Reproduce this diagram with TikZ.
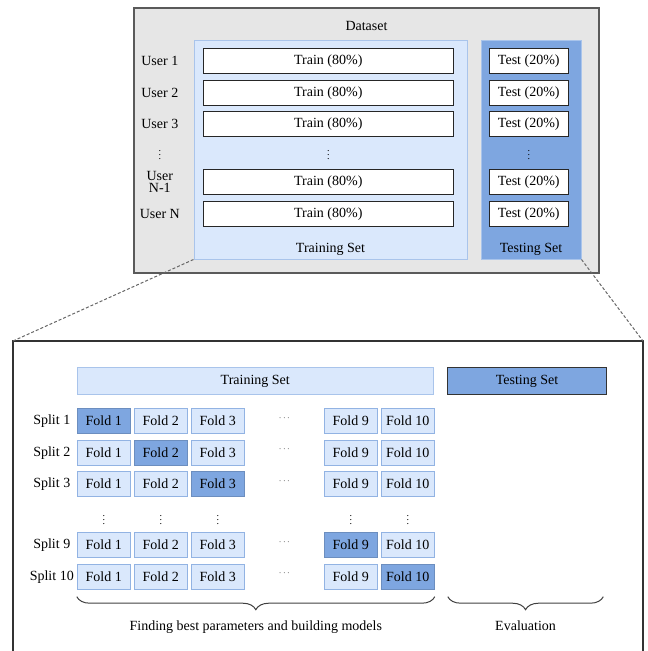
\documentclass[tikz,border=0pt]{standalone}
\usepackage{fontspec}
\setmainfont{Liberation Serif}
\usetikzlibrary{positioning, matrix, decorations.pathreplacing}
\definecolor{dsgray}{HTML}{E6E6E6}
\definecolor{dsedge}{HTML}{5A5A5A}
\definecolor{trfill}{HTML}{DAE8FC}
\definecolor{tredge}{HTML}{A9C4EB}
\definecolor{tsfill}{HTML}{7EA6E0}
\definecolor{tsedge}{HTML}{6C8EBF}
\definecolor{fdedge}{HTML}{92B3E3}

\begin{document}
\begin{tikzpicture}[
    x=1pt, y=-1pt,
    font=\fontsize{14}{13}\selectfont,
    panel/.style={rectangle, draw=#1, line width=1pt, inner sep=0pt},
    userlbl/.style={draw=none, fill=none, inner sep=0pt, minimum width=44pt, minimum height=25pt},
    trainbox/.style={rectangle, draw=black!85, fill=white, line width=1pt,
                     minimum width=250pt, minimum height=25pt, inner sep=2pt},
    testbox/.style={trainbox, minimum width=79pt},
    fold/.style={rectangle, draw=fdedge, fill=trfill, line width=1pt,
                 minimum width=53pt, minimum height=25pt, inner sep=2pt},
    foldhl/.style={fill=tsfill, draw=tsedge},
    vdot/.style={draw=none, fill=none, minimum width=0pt, minimum height=0pt, inner sep=0pt,
                 text height=9pt, text depth=0pt, font=\fontsize{10}{10}\selectfont},
    hdot/.style={draw=none, fill=none, minimum width=73pt, minimum height=0pt, inner sep=0pt,
                 yshift=3pt, font=\fontsize{9}{9}\selectfont},
    zoomline/.style={dash pattern=on 3pt off 2pt, line width=1pt, black!60},
    curly/.style={decorate, decoration={brace, mirror, amplitude=13pt}, line width=1pt, black!75}
  ]
    \useasboundingbox (0,0) rectangle (648,651);

    % dataset overview
    \node[panel=dsedge, fill=dsgray, line width=1.2pt, minimum width=465pt, minimum height=265pt] (dataset) at (366.5,140.5) {};
    \node[anchor=base] (dstitle) at ([yshift=-23.5pt]dataset.north) {Dataset};
    \node[panel=tredge, fill=trfill, minimum width=273pt, minimum height=219pt] (trainset) at (330.5,149.5) {};
    \node[panel=tredge, fill=tsfill, minimum width=100pt, minimum height=219pt] (testset) at (531,149.5) {};
    \node[anchor=base] (trainlbl) at ([yshift=7.5pt]trainset.south) {Training Set};
    \node[anchor=base] (testlbl) at ([yshift=7.5pt]testset.south) {Testing Set};

    \matrix (users) [matrix of nodes, anchor=north east, inner sep=0pt, row sep=5.5pt, column sep=21pt,
                     nodes={anchor=center},
                     column 1/.style={nodes={userlbl}},
                     column 2/.style={nodes={trainbox}},
                     column 3/.style={nodes={testbox}},
                     row 4/.style={nodes={vdot}}] at (569,48) {
      User 1 & Train (80\%) &[14pt] Test (20\%) \\
      User 2 & Train (80\%) & Test (20\%) \\
      User 3 & Train (80\%) & Test (20\%) \\[7.5pt]
      $\vdots$ & $\vdots$ & $\vdots$ \\[4.5pt]
      \shortstack{User\\N-1} & Train (80\%) & Test (20\%) \\
      User N & Train (80\%) & Test (20\%) \\
    };

    % cross-validation detail
    \coordinate (cvtl) at (13,341);
    \coordinate (cvtr) at (643,341);
    \draw[black!80, line width=1.2pt] (13,652) -- (cvtl) -- (cvtr) -- (643,652);
    \draw[zoomline] (trainset.south west) -- (cvtl);
    \draw[zoomline] (testset.south east) -- (cvtr);

    \matrix (folds) [matrix of nodes, anchor=north east, inner sep=0pt, row sep=5.5pt, column sep=3pt,
                     nodes={fold, anchor=center},
                     column 1/.style={nodes={userlbl}},
                     column 5/.style={nodes={hdot}},
                     row 4/.style={nodes={vdot}}] at (435,408) {
      Split 1 & |[foldhl]| Fold 1 & Fold 2 & Fold 3 & $\cdots$ & Fold 9 & Fold 10 \\
      Split 2 & Fold 1 & |[foldhl]| Fold 2 & Fold 3 & $\cdots$ & Fold 9 & Fold 10 \\
      Split 3 & Fold 1 & Fold 2 & |[foldhl]| Fold 3 & $\cdots$ & Fold 9 & Fold 10 \\[13pt]
              & $\vdots$ & $\vdots$ & $\vdots$ & & $\vdots$ & $\vdots$ \\[2pt]
      Split 9 & Fold 1 & Fold 2 & Fold 3 & $\cdots$ & |[foldhl]| Fold 9 & Fold 10 \\
      Split 10 & Fold 1 & Fold 2 & Fold 3 & $\cdots$ & Fold 9 & |[foldhl]| Fold 10 \\
    };

    \node[panel=tredge, fill=trfill, minimum width=356pt, minimum height=27pt,
          above right=13pt and 0pt of folds-1-2.north west] (trainbar) {Training Set};
    \node[panel=black!80, fill=tsfill, line width=1.5pt, minimum width=159pt, minimum height=27pt,
          right=13pt of trainbar] (testbar) {Testing Set};

    \coordinate (findl) at ([yshift=-7pt]folds-6-2.south west);
    \coordinate (findr) at ([yshift=-7pt]folds-6-7.south east);
    \coordinate (evall) at ([xshift=1pt]testbar.west |- findl);
    \coordinate (evalr) at ([xshift=-4pt]testbar.east |- findr);
    \draw[curly] (findl) -- (findr) node[midway, anchor=base, yshift=-34pt, black] (findtxt) {Finding best parameters and building models};
    \draw[curly] (evall) -- (evalr) node[midway, anchor=base, yshift=-34pt, black] (evaltxt) {Evaluation};
  \end{tikzpicture}
\end{document}
